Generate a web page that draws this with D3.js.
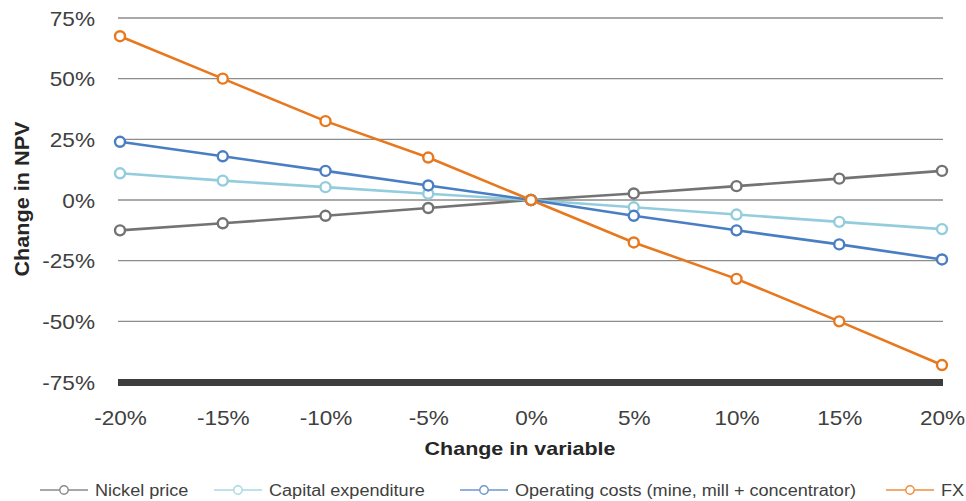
<!DOCTYPE html>
<html>
<head>
<meta charset="utf-8">
<script src="https://cdn.jsdelivr.net/npm/d3@7"></script>
<style>
  html, body { margin: 0; padding: 0; background: #ffffff; }
  svg { display: block; }
  text { font-family: "Liberation Sans", Arial, sans-serif; }
</style>
</head>
<body>
<svg id="chart" width="966" height="501"></svg>
<script>
// Sensitivity of NPV to each input (percent change)
const categories = [-20, -15, -10, -5, 0, 5, 10, 15, 20];
const nickelPrice = [-12.5, -9.6, -6.5, -3.3, 0, 2.7, 5.7, 8.8, 12];
const capitalExpenditure = [11, 8, 5.3, 2.6, 0, -3, -6, -9, -12];
const operatingCosts = [24, 18, 12, 6, 0, -6.5, -12.5, -18.3, -24.5];
const fx = [67.5, 50, 32.5, 17.5, 0, -17.5, -32.5, -50, -68];
const yTicks = [75, 50, 25, 0, -25, -50, -75];

const seriesNames = ["Nickel price", "Capital expenditure", "Operating costs (mine, mill + concentrator)", "FX"];
const seriesValues = [nickelPrice, capitalExpenditure, operatingCosts, fx];
const seriesColors = ["#737373", "#93CDDD", "#4A7EC2", "#E8781E"];
const legendColors = ["#8a8a8a", "#a9d8e4", "#6d97cf", "#ec8f3f"];

const svg = d3.select("#chart");
const stretch = 1.13;        // text is drawn slightly wide
const plotLeft = 120, plotRight = 942, plotTop = 18, plotBottom = 382;

const x = d3.scalePoint().domain(categories).range([plotLeft, plotRight]);
const y = d3.scaleLinear().domain([-75, 75]).range([plotBottom, plotTop]);

// Horizontal gridlines
svg.append("g")
  .selectAll("line")
  .data(yTicks.filter(t => t !== -75))
  .join("line")
  .attr("x1", plotLeft - 2).attr("x2", plotRight + 1)
  .attr("y1", d => y(d)).attr("y2", d => y(d))
  .attr("stroke", "#8c8c8c").attr("stroke-width", 1.3);

// Heavy baseline at the bottom of the range
svg.append("line")
  .attr("x1", plotLeft - 2).attr("x2", plotRight + 1)
  .attr("y1", y(-75) + 0.5).attr("y2", y(-75) + 0.5)
  .attr("stroke", "#3d3d3d").attr("stroke-width", 7);

// Y axis labels
const yAxis = d3.axisLeft(y).tickValues(yTicks).tickSize(0).tickPadding(0)
  .tickFormat(d => d + "%");
const gy = svg.append("g").attr("transform", "translate(95,0)").call(yAxis);
gy.select(".domain").remove();
gy.selectAll("text")
  .attr("x", 0).attr("dy", "0.35em")
  .attr("transform", `scale(${stretch},1)`)
  .style("font-size", "20px").attr("fill", "#404040")
  .attr("text-anchor", "end");

// X axis labels
const xAxis = d3.axisBottom(x).tickSize(0).tickPadding(0).tickFormat(d => d + "%");
const gx = svg.append("g").attr("transform", "translate(0,425)").call(xAxis);
gx.select(".domain").remove();
gx.selectAll("text")
  .attr("y", 0).attr("dy", null)
  .attr("transform", `scale(${stretch},1)`)
  .style("font-size", "20px").attr("fill", "#404040");

// Axis titles
svg.append("text")
  .attr("transform", `translate(520,455) scale(${stretch},1)`)
  .attr("text-anchor", "middle")
  .style("font-size", "19px").style("font-weight", "bold").attr("fill", "#262626")
  .text("Change in variable");

svg.append("text")
  .attr("transform", `translate(29,199) rotate(-90)`)
  .attr("text-anchor", "middle")
  .style("font-size", "20px").style("font-weight", "bold").attr("fill", "#262626")
  .attr("textLength", 155).attr("lengthAdjust", "spacingAndGlyphs")
  .text("Change in NPV");

// Series lines and markers
const line = d3.line().x((d, i) => x(categories[i])).y(d => y(d));
seriesValues.forEach((vals, si) => {
  const g = svg.append("g");
  g.append("path")
    .datum(vals)
    .attr("d", line)
    .attr("fill", "none")
    .attr("stroke", seriesColors[si])
    .attr("stroke-width", 2.6)
    .attr("stroke-linejoin", "round");
  g.selectAll("circle")
    .data(vals)
    .join("circle")
    .attr("cx", (d, i) => x(categories[i]))
    .attr("cy", d => y(d))
    .attr("r", 5)
    .attr("fill", "#ffffff")
    .attr("stroke", seriesColors[si])
    .attr("stroke-width", 2.4);
});

// Legend
const legendY = 490;
const legendStarts = [40, 214, 460, 886];
const legend = svg.append("g");
seriesNames.forEach((name, i) => {
  const item = legend.append("g").attr("transform", `translate(${legendStarts[i]},${legendY})`);
  item.append("line")
    .attr("x1", 0).attr("x2", 48).attr("y1", 0).attr("y2", 0)
    .attr("stroke", legendColors[i]).attr("stroke-width", 1.4);
  item.append("circle")
    .attr("cx", 24).attr("cy", 0).attr("r", 4.2)
    .attr("fill", "#ffffff").attr("stroke", legendColors[i]).attr("stroke-width", 1.4);
  item.append("text")
    .attr("transform", `translate(55,0) scale(${stretch},1)`)
    .attr("dy", "0.35em")
    .style("font-size", "16px").attr("fill", "#404040")
    .text(name);
});
</script>
</body>
</html>
